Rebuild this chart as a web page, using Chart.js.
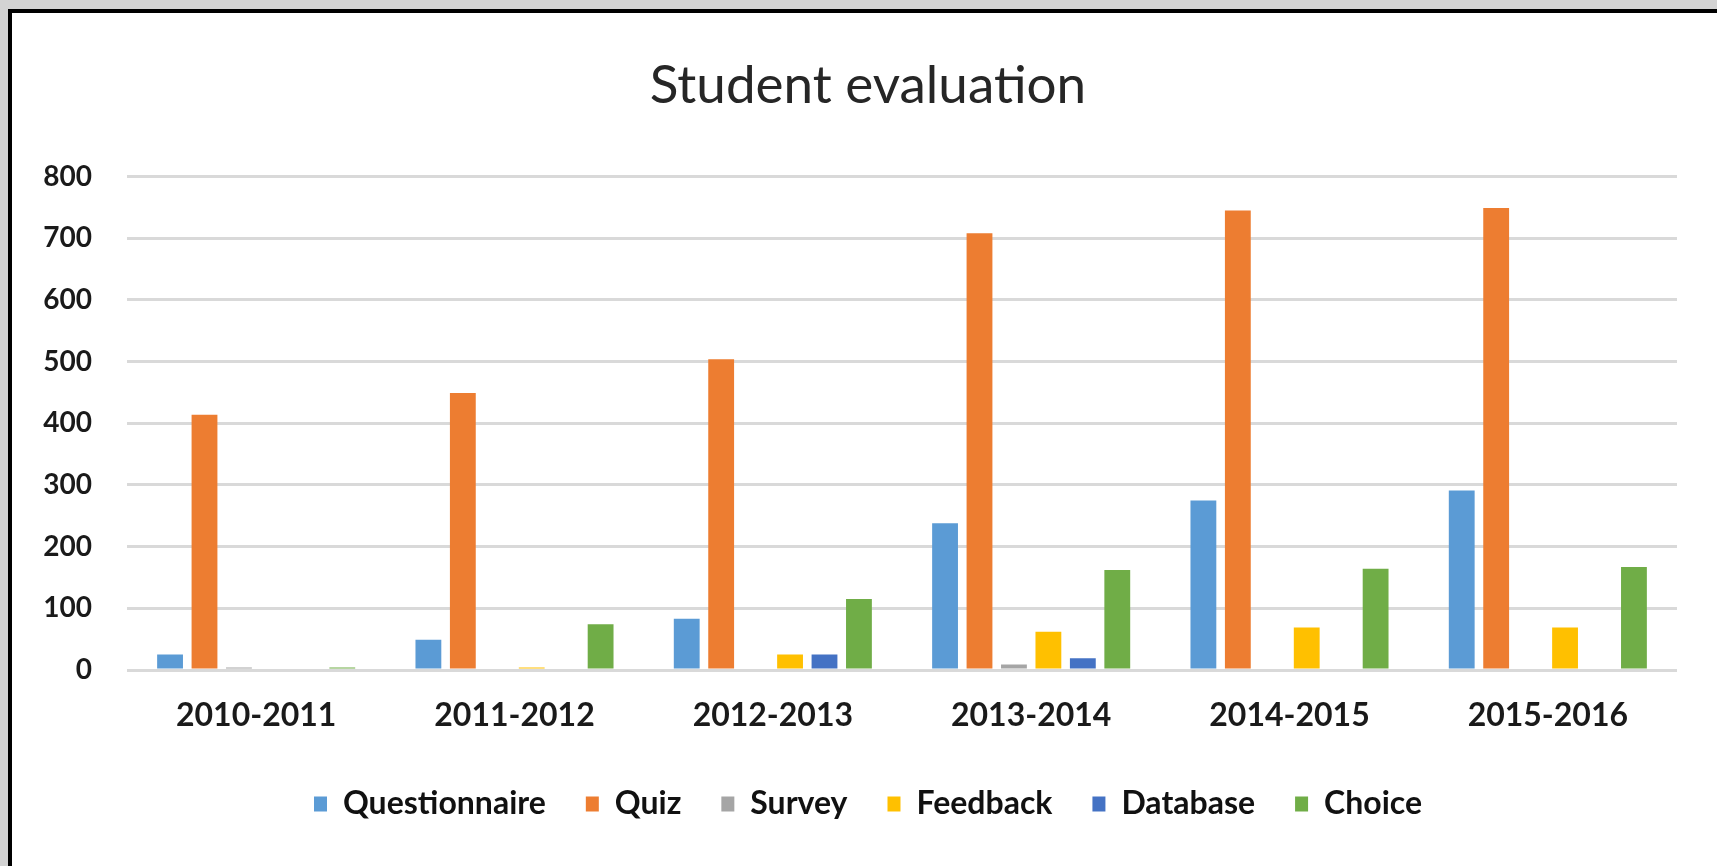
<!DOCTYPE html>
<html>
<head>
<meta charset="utf-8">
<script src="https://cdn.jsdelivr.net/npm/chart.js@4.4.1/dist/chart.umd.min.js"></script>
<style>
  html, body { margin: 0; padding: 0; background: #d3d3d3; overflow: hidden; }
  #ramka {
    position: absolute; left: 8px; top: 9px;
    width: 1709px; height: 857px;
    background: #fff;
    border-left: 4px solid #000; border-top: 4px solid #000;
  }
  #wykres { display: block; }
</style>
</head>
<body>
<div id="ramka"><canvas id="wykres" width="1705" height="853"></canvas></div>
<script>
const lata = ["2010-2011","2011-2012","2012-2013","2013-2014","2014-2015","2015-2016"];
const questionnaire = [25, 49, 83, 238, 275, 291];
const quiz = [414, 449, 504, 708, 745, 749];
const survey = [4, 0, 0, 9, 0, 0];
const feedback = [0, 4, 25, 62, 69, 69];
const database = [0, 0, 25, 19, 0, 0];
const choice = [4, 74, 115, 162, 164, 167];
const osY = [0,100,200,300,400,500,600,700,800];

const czcionka = "Lato, 'Open Sans', sans-serif";

function seria(nazwa, dane, kolor) {
    return { label: nazwa, data: dane, backgroundColor: kolor, borderWidth: 0 };
}

// etykiety osi Y wychodza poza lewy padding - poszerzamy obszar przyciecia
const bezPrzyciecia = {
    id: 'bezPrzyciecia',
    afterLayout: function (chart) { chart.scales.y.left = 0; }
};

var ctx = document.getElementById("wykres").getContext("2d");
var wykres = new Chart(ctx, {
    type: 'bar',
    data: {
        labels: lata,
        datasets: [
            seria('Questionnaire', questionnaire, '#5B9BD5'),
            seria('Quiz', quiz, '#ED7D31'),
            seria('Survey', survey, '#A5A5A5'),
            seria('Feedback', feedback, '#FFC000'),
            seria('Database', database, '#4472C4'),
            seria('Choice', choice, '#70AD47')
        ]
    },
    plugins: [bezPrzyciecia],
    options: {
        responsive: false,
        animation: false,
        layout: { padding: { left: 47, right: 40, top: 0, bottom: 36 } },
        datasets: { bar: { categoryPercentage: 0.8, barPercentage: 0.75 } },
        scales: {
            x: {
                grid: { display: false, drawTicks: false },
                border: { display: false },
                ticks: { color: '#1a1a1a', padding: 26, font: { family: czcionka, size: 32, weight: 'bold' } },
                afterFit: function (s) { s.height = 78; }
            },
            y: {
                min: 0, max: 800,
                afterBuildTicks: function (s) { s.ticks = osY.map(v => ({ value: v })); },
                grid: { color: '#d9d9d9', lineWidth: 3, drawTicks: false },
                border: { display: false },
                ticks: { color: '#1a1a1a', padding: 35, font: { family: czcionka, size: 28, weight: 'bold' } },
                afterFit: function (s) { s.width = 68; }
            }
        },
        plugins: {
            title: {
                display: true,
                text: 'Student evaluation',
                color: '#262626',
                font: { family: czcionka, size: 53, weight: 'normal' },
                padding: { top: 41, bottom: 59 }
            },
            legend: {
                position: 'bottom',
                labels: {
                    color: '#111',
                    boxWidth: 13, boxHeight: 15,
                    padding: 40,
                    font: { family: czcionka, size: 32, weight: 'bold' }
                }
            },
            tooltip: { enabled: false }
        }
    }
});
</script>
</body>
</html>
